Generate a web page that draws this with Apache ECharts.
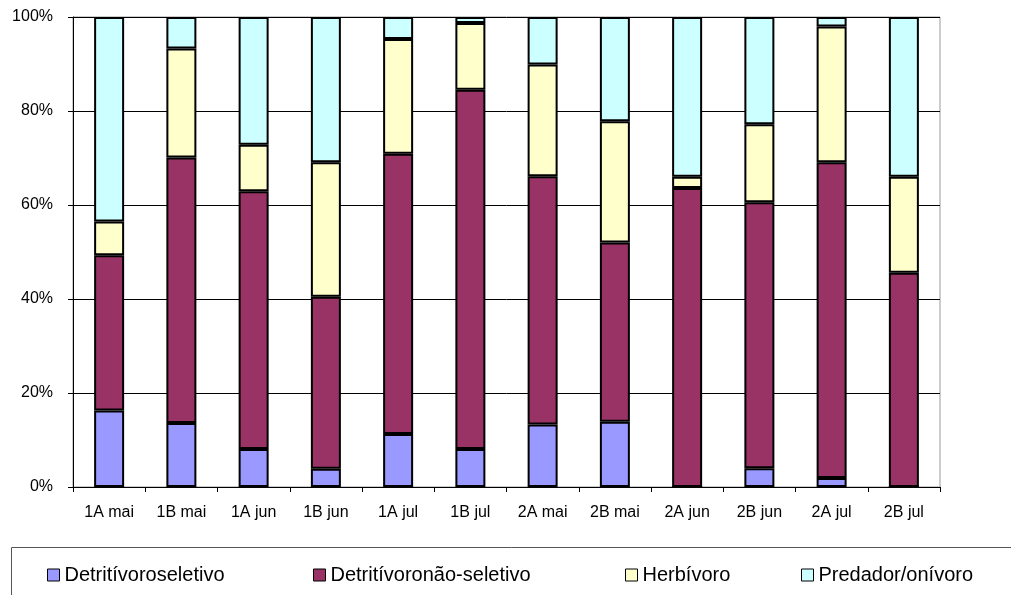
<!DOCTYPE html>
<html>
<head>
<meta charset="utf-8">
<script src="https://cdn.jsdelivr.net/npm/echarts@6/dist/echarts.min.js"></script>
<style>
html,body{margin:0;padding:0;background:#fff;}
#chart{width:1011px;height:595px;}
</style>
</head>
<body>
<div id="chart"></div>
<script>
var categories = ['1A mai','1B mai','1A jun','1B jun','1A jul','1B jul','2A mai','2B mai','2A jun','2B jun','2A jul','2B jul'];
var seriesNames = ['Detritívoroseletivo','Detritívoronão-seletivo','Herbívoro','Predador/onívoro'];
var detritivoroSeletivo = [16.3, 13.6, 8.1, 3.9, 11.3, 8.1, 13.3, 13.9, 0, 4.0, 1.9, 0];
var detritivoroNaoSeletivo = [33.0, 56.5, 54.8, 36.6, 59.6, 76.4, 52.8, 38.1, 63.6, 56.6, 67.2, 45.6];
var herbivoro = [7.2, 23.2, 9.9, 28.6, 24.4, 14.2, 23.8, 25.8, 2.4, 16.6, 28.9, 20.4];
var predadorOnivoro = [43.5, 6.7, 27.2, 30.9, 4.7, 1.3, 10.1, 22.2, 34.0, 22.8, 2.0, 34.0];
var yTicks = [0, 20, 40, 60, 80, 100];

var colors = ['#9999FF', '#993366', '#FFFFCC', '#CCFFFF'];
var values = [detritivoroSeletivo, detritivoroNaoSeletivo, herbivoro, predadorOnivoro];
var font = "'Liberation Sans', Arial, sans-serif";

var chart = echarts.init(document.getElementById('chart'), null, {renderer: 'canvas'});

var legendLefts = [47, 313, 625, 801];
var legends = seriesNames.map(function (n, i) {
  return {
    data: [n],
    left: legendLefts[i],
    top: 565,
    padding: 0,
    icon: 'rect',
    itemWidth: 12,
    itemHeight: 12,
    itemGap: 0,
    selectedMode: false,
    itemStyle: {borderColor: '#000', borderWidth: 1},
    textStyle: {fontFamily: font, fontSize: 20, color: '#000'}
  };
});

var series = seriesNames.map(function (n, i) {
  return {
    name: n,
    type: 'bar',
    stack: 'total',
    barWidth: 30,
    data: values[i],
    itemStyle: {color: colors[i], borderColor: '#000', borderWidth: 2},
    emphasis: {disabled: true}
  };
});

chart.setOption({
  animation: false,
  color: colors,
  textStyle: {fontFamily: font},
  grid: {left: 73, right: 71, top: 17, bottom: 108, show: true, borderColor: '#999', borderWidth: 1},
  legend: legends,
  graphic: [{
    type: 'rect',
    shape: {x: 11.5, y: 547.5, width: 1100, height: 100},
    style: {fill: 'none', stroke: '#555', lineWidth: 1}
  }],
  xAxis: {
    type: 'category',
    data: categories,
    axisLine: {lineStyle: {color: '#000', width: 1}},
    axisTick: {show: true, length: 5, lineStyle: {color: '#000'}},
    axisLabel: {fontFamily: font, fontSize: 16, color: '#000', margin: 18}
  },
  yAxis: {
    type: 'value',
    min: yTicks[0],
    max: yTicks[yTicks.length - 1],
    interval: yTicks[1] - yTicks[0],
    axisLine: {show: true, lineStyle: {color: '#000', width: 1}},
    axisTick: {show: true, length: 5, lineStyle: {color: '#000'}},
    axisLabel: {fontFamily: font, fontSize: 16, color: '#000', margin: 20, formatter: '{value}%'},
    splitLine: {show: true, lineStyle: {color: '#000', width: 1}}
  },
  series: series
});
</script>
</body>
</html>
